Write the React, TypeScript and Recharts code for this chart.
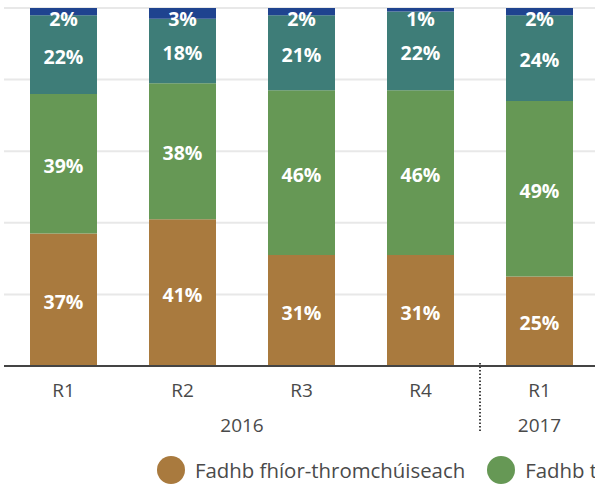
import React from "react";
import { BarChart, Bar, XAxis, YAxis, CartesianGrid, LabelList } from "recharts";

const rounds = ["R1", "R2", "R3", "R4", "R1"];
const years = ["2016", "2016", "2016", "2016", "2017"];
const fhiorThrom = [37, 41, 31, 31, 25];
const throm = [39, 38, 46, 46, 49];
const beag = [22, 18, 21, 22, 24];
const niFadhb = [2, 3, 2, 1, 2];
const yTicks = [0, 20, 40, 60, 80, 100];

const series = [
  { key: "fhiorThrom", name: "Fadhb fhíor-thromchúiseach", color: "#a97a3e" },
  { key: "throm", name: "Fadhb thromchúiseach", color: "#669855" },
  { key: "beag", name: "Fadhb bheag", color: "#3e7d78" },
  { key: "niFadhb", name: "Ní fadhb í", color: "#1f438f" },
];

const data = rounds.map((r, i) => ({
  round: r,
  idx: i,
  fhiorThrom: fhiorThrom[i],
  throm: throm[i],
  beag: beag[i],
  niFadhb: niFadhb[i],
}));

const W = 600;
const H = 484;
const M = { top: 8, right: 1, left: 4, bottom: 0 };
const AXIS_Y = 366;
const band = (W - M.left - M.right) / rounds.length;
const FONT = "'Open Sans', 'Noto Sans', sans-serif";

/* eslint-disable @typescript-eslint/no-explicit-any */
function Tick({ x, y, payload }: any) {
  const i = payload.index ?? payload.value;
  const yr = years[i];
  const start = years.indexOf(yr);
  const len = years.filter((v) => v === yr).length;
  const mid = start + Math.floor((len - 1) / 2);
  const yearX = x + ((len - 1) / 2 - (i - start)) * band;
  return (
    <g>
      <text x={x} y={y + 31} textAnchor="middle" fontSize={19} fill="#4a4a4a" fontFamily={FONT}>{rounds[i]}</text>
      {i === mid && (
        <text x={yearX} y={y + 66} textAnchor="middle" fontSize={19} fill="#4a4a4a" fontFamily={FONT}>{yr}</text>
      )}
      {i > 0 && years[i - 1] !== yr && (
        <line x1={x - band / 2} x2={x - band / 2} y1={y - 3} y2={y + 65} stroke="#444" strokeWidth={2} strokeDasharray="1.5 2" />
      )}
    </g>
  );
}

function SegLabel({ x, y, width, height, value }: any) {
  const cy = Math.max(y + height / 2, M.top + 9);
  return (
    <text x={x + width / 2} y={cy + 9} textAnchor="middle" fontSize={19.5} fontWeight={700} fill="#fff" fontFamily={FONT}>
      {value}%
    </text>
  );
}
/* eslint-enable @typescript-eslint/no-explicit-any */

export default function App() {
  return (
    <div style={{ position: "absolute", left: 0, top: 0, width: 595, height: H, overflow: "hidden", background: "#fff" }}>
      <BarChart width={W} height={H} data={data} margin={M}>
        <CartesianGrid horizontal vertical={false} stroke="#e8e8e8" strokeWidth={2} />
        <YAxis hide domain={[0, 100]} ticks={yTicks} />
        <XAxis dataKey="idx" height={H - AXIS_Y - M.bottom} axisLine={{ stroke: "#444", strokeWidth: 2 }} tickLine={false} tickSize={0} tickMargin={0} tick={<Tick />} interval={0} />
        {series.map((s) => (
          <Bar key={s.key} dataKey={s.key} name={s.name} stackId="a" fill={s.color} barSize={67} isAnimationActive={false}>
            <LabelList dataKey={s.key} content={<SegLabel />} />
          </Bar>
        ))}
      </BarChart>
      <div style={{ position: "absolute", left: 157, top: 456, display: "flex", whiteSpace: "nowrap", fontFamily: FONT, fontSize: 20.4, color: "#4a4a4a", lineHeight: "28px" }}>
        {series.map((s) => (
          <div key={s.key} style={{ display: "flex", alignItems: "center", marginRight: 22 }}>
            <span style={{ width: 28, height: 28, borderRadius: 14, background: s.color, marginRight: 10, display: "inline-block" }} />
            <span>{s.name}</span>
          </div>
        ))}
      </div>
    </div>
  );
}
